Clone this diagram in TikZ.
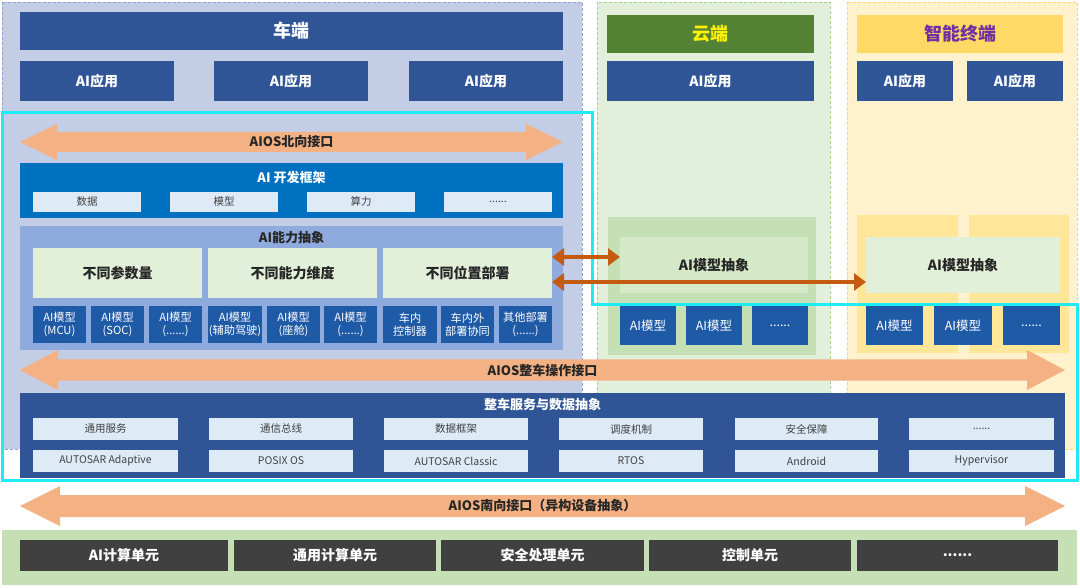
\documentclass[tikz,border=0pt]{standalone}
\usepackage{fontspec}
\setmainfont{Noto Sans CJK SC}
\usetikzlibrary{arrows.meta}
\definecolor{carbg}{HTML}{C3CDE5}
\definecolor{carbd}{HTML}{8FA3CF}
\definecolor{cloudbg}{HTML}{E2EFDA}
\definecolor{cloudbd}{HTML}{A9D18E}
\definecolor{termbg}{HTML}{FFF2CC}
\definecolor{termbd}{HTML}{FFD966}
\definecolor{hblue}{HTML}{2F5597}
\definecolor{devblue}{HTML}{0070C0}
\definecolor{capblue}{HTML}{8FAADC}
\definecolor{lgreen}{HTML}{E2F0D9}
\definecolor{mblue}{HTML}{1F5AA6}
\definecolor{lightb}{HTML}{DEEBF7}
\definecolor{dgreen}{HTML}{548235}
\definecolor{mgreen}{HTML}{C5E0B4}
\definecolor{igreen}{HTML}{D5E8C8}
\definecolor{ymid}{HTML}{FFE699}
\definecolor{orangeA}{HTML}{F4B183}
\definecolor{brownA}{HTML}{C55A11}
\definecolor{cyanL}{HTML}{1EEBF5}
\definecolor{dgray}{HTML}{404040}
\definecolor{txt}{HTML}{262626}
\definecolor{purp}{HTML}{7030A0}
\newcommand\bx[7]{\node[#2, minimum width={(#5)-(#3)}, minimum height={(#6)-(#4)}] (#1) at ({((#3)+(#5))/2},{((#4)+(#6))/2}) {#7};}
\newcommand\dblarrowshape[8]{%
  \fill[orangeA] (#2,#4) -- ({#2+#7},{#4-#6}) -- ({#2+#7},{#4-#5}) -- ({#3-#7},{#4-#5}) -- ({#3-#7},{#4-#6}) -- (#3,#4)
   -- ({#3-#7},{#4+#6}) -- ({#3-#7},{#4+#5}) -- ({#2+#7},{#4+#5}) -- ({#2+#7},{#4+#6}) -- cycle;
  \node[ifacelabel] (#1) at ({(#2+#3)/2},#4) {#8};}
\begin{document}
\begin{tikzpicture}[x=1pt,y=-1pt,
  every node/.style={inner sep=0pt, outer sep=0pt, align=center},
  panel/.style={line width=0.8pt, dash pattern=on 3pt off 2pt},
  hdr/.style={fill=hblue, text=white, font=\fontsize{18}{20}\selectfont\bfseries},
  app/.style={fill=hblue, text=white, font=\fontsize{14}{16}\selectfont\bfseries},
  sub/.style={fill=lightb, text=dgray, font=\fontsize{10.5}{12}\selectfont},
  title/.style={font=\fontsize{13}{15}\selectfont\bfseries},
  gbox/.style={fill=lgreen, text=txt, font=\fontsize{14}{16}\selectfont\bfseries},
  sbox/.style={fill=mblue, text=white, font=\fontsize{11.2}{13.5}\selectfont},
  mbox/.style={fill=mblue, text=white, font=\fontsize{12.5}{14}\selectfont},
  ifacelabel/.style={text=txt, font=\fontsize{13}{15}\selectfont\bfseries},
  unit/.style={fill=dgray, text=white, font=\fontsize{14}{16}\selectfont\bfseries},
  conn/.style={draw=brownA, line width=4.5pt, {Triangle[length=12pt,width=17pt]}-{Triangle[length=12pt,width=17pt]}},
]
\useasboundingbox (0,0) rectangle (1080,588);
\fill[white] (0,0) rectangle (1080,588);
% panels
\draw[panel, fill=carbg, draw=carbd] (2,2) rectangle (582,449);
\draw[panel, fill=cloudbg, draw=cloudbd] (597,2) rectangle (830,449);
\draw[panel, fill=termbg, draw=termbd] (847,2) rectangle (1077,449);
% headers
\bx{carhdr}{hdr}{20}{12}{563}{50}{车端}
\bx{cloudhdr}{hdr, fill=dgreen, text={yellow}}{607}{15}{814}{53}{云端}
\bx{termhdr}{hdr, fill=termbd, text=purp}{857}{15}{1063}{53}{智能终端}
% apps
\bx{app1}{app}{20}{61}{174}{101}{AI应用}
\bx{app2}{app}{214}{61}{368}{101}{AI应用}
\bx{app3}{app}{409}{61}{563}{101}{AI应用}
\bx{app4}{app}{607}{61}{814}{101}{AI应用}
\bx{app5}{app}{857}{61}{953}{101}{AI应用}
\bx{app6}{app}{967}{61}{1063}{101}{AI应用}
% cloud and terminal areas
\fill[mgreen] (608,217) rectangle (816,355);
\fill[ymid] (857,215) rectangle (958,353);
\fill[ymid] (969,215) rectangle (1069,353);
\bx{cloudabs}{gbox, fill=igreen}{620}{237}{808}{293}{AI模型抽象}
\bx{termabs}{gbox}{866}{237}{1060}{293}{AI模型抽象}
\bx{cm1}{mbox}{620}{306}{676}{345}{AI模型}
\bx{cm2}{mbox}{686}{306}{742}{345}{AI模型}
\bx{cm3}{mbox}{752}{306}{808}{345}{......}
\bx{tm1}{mbox}{866}{306}{923}{345}{AI模型}
\bx{tm2}{mbox}{934}{306}{992}{345}{AI模型}
\bx{tm3}{mbox}{1003}{306}{1060}{345}{......}
% north interface
\dblarrowshape{north}{20}{563}{142}{10}{18}{37}{AIOS北向接口}
% AI dev framework
\bx{dev}{fill=devblue}{20}{163}{563}{218}{}
\node[title, text=white] (devt) at (291.5,178) {AI 开发框架};
\bx{d1}{sub}{33}{192}{141}{212}{数据}
\bx{d2}{sub}{170}{192}{278}{212}{模型}
\bx{d3}{sub}{307}{192}{415}{212}{算力}
\bx{d4}{sub}{444}{192}{552}{212}{......}
% AI capability abstraction
\bx{cap}{fill=capblue}{20}{226}{563}{350}{}
\node[title, text=txt] (capt) at (291.5,238) {AI能力抽象};
\bx{g1}{gbox}{33}{248}{202}{298}{不同参数量}
\bx{g2}{gbox}{208}{248}{377}{298}{不同能力维度}
\bx{deploy}{gbox}{383}{248}{552}{298}{不同位置部署}
\bx{s1}{sbox}{33}{306}{86}{343}{AI模型\\(MCU)}
\bx{s2}{sbox}{91}{306}{144}{343}{AI模型\\(SOC)}
\bx{s3}{sbox}{149}{306}{202}{343}{AI模型\\(......)}
\bx{s4}{sbox}{208}{306}{262}{343}{AI模型\\(辅助驾驶)}
\bx{s5}{sbox}{267}{306}{320}{343}{AI模型\\(座舱)}
\bx{s6}{sbox}{324}{306}{377}{343}{AI模型\\(......)}
\bx{s7}{sbox}{383}{306}{437}{343}{车内\\控制器}
\bx{s8}{sbox}{441}{306}{494}{343}{车内外\\部署协同}
\bx{s9}{sbox}{499}{306}{552}{343}{其他部署\\(......)}
% cyan outline
\draw[cyanL, line width=3pt, line join=miter] (2,113) -- (592,113) -- (592,305) -- (1077,305) -- (1077,480) -- (2,480) -- cycle;
% connectors
\draw[conn] (deploy.east |- 0,257) -- (cloudabs.west |- 0,257);
\draw[conn] (deploy.east |- 0,282) -- (termabs.west |- 0,282);
% vehicle operation interface
\dblarrowshape{vehop}{20}{1065}{370}{10.5}{20}{38}{AIOS整车操作接口}
% vehicle service
\bx{svc}{fill=hblue}{20}{393}{1065}{478}{}
\node[title, text=white] (svct) at (542.5,405) {整车服务与数据抽象};
\bx{r1}{sub}{33}{418}{178}{440}{通用服务}
\bx{r2}{sub}{209}{418}{353}{440}{通信总线}
\bx{r3}{sub}{384}{418}{528}{440}{数据框架}
\bx{r4}{sub}{559}{418}{703}{440}{调度机制}
\bx{r5}{sub}{735}{418}{878}{440}{安全保障}
\bx{r6}{sub}{909}{418}{1054}{440}{......}
\bx{o1}{sub}{33}{450}{178}{472}{AUTOSAR Adaptive}
\bx{o2}{sub}{209}{450}{353}{472}{POSIX OS}
\bx{o3}{sub}{384}{450}{528}{472}{AUTOSAR Classic}
\bx{o4}{sub}{559}{450}{703}{472}{RTOS}
\bx{o5}{sub}{735}{450}{878}{472}{Android}
\bx{o6}{sub}{909}{450}{1054}{472}{Hypervisor}
% south interface
\dblarrowshape{south}{20}{1065}{506}{11}{20}{40}{AIOS南向接口（异构设备抽象）}
% hardware
\fill[mgreen] (2,530) rectangle (1077,585);
\bx{u1}{unit}{20}{540}{228}{571}{AI计算单元}
\bx{u2}{unit}{234}{540}{436}{571}{通用计算单元}
\bx{u3}{unit}{441}{540}{644}{571}{安全处理单元}
\bx{u4}{unit}{649}{540}{851}{571}{控制单元}
\bx{u5}{unit}{857}{540}{1058}{571}{......}
\end{tikzpicture}
\end{document}
